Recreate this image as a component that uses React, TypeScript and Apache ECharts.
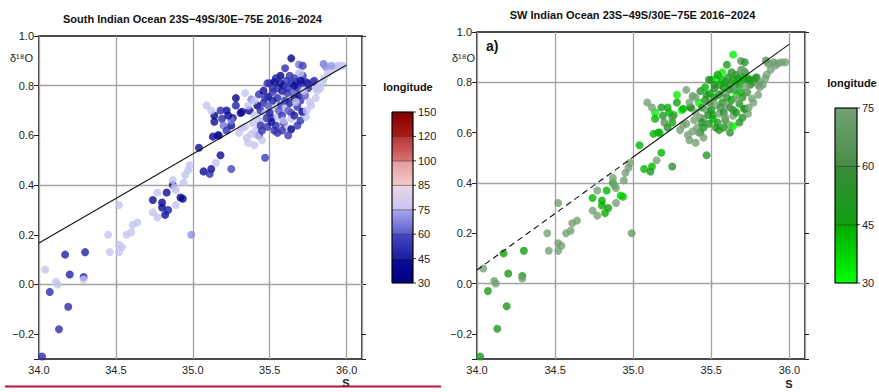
import React, { useEffect, useRef } from 'react';
import * as echarts from 'echarts';

// ---- data ----
const salinity = [
  34.02, 34.13, 34.19, 34.07, 34.04, 34.12, 34.11, 34.20, 34.17, 34.30,
  34.29, 34.29, 34.45, 34.46, 34.52, 34.54, 34.52, 34.52, 34.57, 34.60,
  34.61, 34.64, 34.77, 34.74, 34.80, 34.83, 34.74, 34.77, 34.80, 34.82,
  34.84, 34.92, 34.935, 34.89, 34.87, 34.88, 34.89, 34.94, 34.95, 34.99,
  34.87, 34.97, 34.98, 35.04, 35.18, 35.07, 35.12, 35.11, 35.15, 35.25,
  35.47, 35.09, 35.14, 35.22, 35.31, 35.37, 35.14, 35.19, 35.26, 35.20,
  35.22, 35.16, 35.13, 35.17, 35.34, 35.28, 35.38, 35.35, 35.41, 35.32,
  35.45, 35.42, 35.44, 35.46, 35.49, 35.52, 35.55, 35.50, 35.53, 35.59,
  35.64, 35.67, 35.71, 35.735, 35.77, 35.69, 35.68, 35.57, 35.615, 35.66,
  35.69, 35.57, 35.53, 35.47, 35.51, 35.55, 35.60, 35.64, 35.68, 35.71,
  35.70, 35.64, 35.59, 35.54, 35.485, 35.53, 35.51, 35.43, 35.39, 35.34,
  35.43, 35.45, 35.615, 35.735, 35.64, 35.64, 35.69, 35.57, 35.60, 35.79,
  35.81, 35.76, 35.85, 35.865, 35.93, 35.975, 35.95, 35.91, 35.855, 35.845,
  35.80, 35.81, 35.78, 35.745, 35.715, 35.715, 35.70, 35.715, 35.485, 35.66,
  35.43, 35.46, 35.365, 35.40, 35.32, 35.38, 35.42, 35.45, 35.70, 35.55,
  35.58, 35.62, 35.65, 35.60, 35.63, 35.56, 35.52, 35.67, 35.73, 35.75,
  35.50, 35.47, 35.61, 35.54, 35.66, 35.72, 35.58, 35.49, 35.28, 35.25,
  35.36, 35.40, 35.30, 35.25, 35.23, 35.18, 35.12, 35.58, 35.62, 35.68,
  35.74, 35.77, 35.80, 35.83, 35.88, 35.90, 35.70, 35.63, 35.57, 35.52,
  35.48, 35.44, 35.40, 35.36, 35.62, 35.66, 35.59, 35.55,
];
const d18o = [
  -0.29, -0.18, -0.09, -0.03, 0.06, 0.00, 0.01, 0.04, 0.12, 0.13,
  0.03, 0.02, 0.20, 0.13, 0.16, 0.15, 0.13, 0.32, 0.20, 0.21,
  0.24, 0.25, 0.37, 0.34, 0.33, 0.37, 0.29, 0.27, 0.31, 0.28,
  0.30, 0.35, 0.345, 0.32, 0.40, 0.39, 0.38, 0.41, 0.44, 0.20,
  0.42, 0.46, 0.48, 0.55, 0.52, 0.455, 0.465, 0.445, 0.49, 0.465,
  0.51, 0.72, 0.68, 0.70, 0.69, 0.70, 0.655, 0.667, 0.67, 0.64,
  0.62, 0.60, 0.595, 0.60, 0.77, 0.75, 0.745, 0.59, 0.62, 0.63,
  0.655, 0.72, 0.70, 0.73, 0.755, 0.775, 0.79, 0.81, 0.815, 0.80,
  0.81, 0.815, 0.81, 0.815, 0.80, 0.85, 0.79, 0.76, 0.77, 0.75,
  0.76, 0.72, 0.71, 0.69, 0.67, 0.675, 0.71, 0.69, 0.715, 0.695,
  0.66, 0.667, 0.65, 0.64, 0.635, 0.62, 0.655, 0.66, 0.65, 0.635,
  0.60, 0.58, 0.63, 0.675, 0.625, 0.91, 0.885, 0.84, 0.87, 0.82,
  0.78, 0.735, 0.887, 0.875, 0.876, 0.88, 0.88, 0.867, 0.83, 0.815,
  0.79, 0.80, 0.815, 0.81, 0.84, 0.88, 0.74, 0.695, 0.81, 0.83,
  0.765, 0.78, 0.70, 0.74, 0.695, 0.605, 0.60, 0.62, 0.85, 0.75,
  0.78, 0.79, 0.77, 0.74, 0.73, 0.70, 0.74, 0.735, 0.76, 0.79,
  0.69, 0.75, 0.82, 0.83, 0.80, 0.78, 0.68, 0.72, 0.72, 0.64,
  0.57, 0.56, 0.61, 0.66, 0.68, 0.70, 0.70, 0.62, 0.60, 0.64,
  0.70, 0.72, 0.75, 0.79, 0.85, 0.88, 0.82, 0.84, 0.81, 0.79,
  0.67, 0.64, 0.68, 0.72, 0.70, 0.68, 0.66, 0.61,
];
const longitude = [
  50, 50, 50, 50, 75, 75, 75, 47, 46, 46,
  47, 75, 75, 75, 75, 75, 75, 75, 75, 75,
  75, 75, 75, 42, 44, 43, 75, 75, 44, 43,
  45, 38, 39, 75, 43, 75, 75, 75, 75, 70,
  75, 75, 75, 43, 43, 43, 42, 50, 75, 58,
  55, 75, 32, 43, 32, 50, 43, 50, 43, 65,
  52, 52, 43, 42, 75, 32, 68, 75, 75, 75,
  75, 32, 50, 50, 43, 52, 52, 52, 32, 52,
  52, 52, 52, 52, 75, 75, 50, 75, 52, 32,
  43, 52, 75, 75, 52, 75, 75, 52, 52, 52,
  52, 75, 52, 50, 52, 50, 43, 75, 75, 75,
  50, 75, 75, 75, 32, 32, 65, 32, 50, 50,
  75, 75, 65, 70, 75, 75, 75, 75, 75, 75,
  75, 75, 55, 45, 52, 55, 52, 50, 52, 55,
  52, 43, 52, 75, 43, 75, 75, 52, 75, 52,
  45, 52, 60, 52, 45, 60, 45, 75, 60, 52,
  45, 52, 52, 45, 43, 75, 52, 60, 45, 43,
  75, 75, 75, 65, 43, 50, 75, 52, 55, 52,
  75, 75, 75, 75, 75, 72, 43, 52, 43, 52,
  52, 52, 75, 75, 60, 45, 75, 52,
];

// regression lines
const fitAll = [[34.0, 0.167], [36.0, 0.883]];
const fitSWDashed = [[34.0, 0.054], [35.0, 0.503]];
const fitSWSolid = [[35.0, 0.503], [36.0, 0.952]];

const yGridValues = [0.0, 0.4, 0.8];

// colour scales
const lonTicksAll = [30, 45, 60, 75, 85, 100, 120, 150];
const lonColorsAll = [
  ['#00007f', '#0b0b98'],
  ['#1c1ca4', '#4848bf'],
  ['#5b5bcd', '#a8a8ee'],
  ['#c4c4f0', '#ecd6e6'],
  ['#f2cccc', '#e49a9a'],
  ['#d87474', '#b63434'],
  ['#a81a1a', '#830000'],
];
const lonTicksSW = [30, 45, 60, 75];
const lonColorsSW = [
  ['#00ff00', '#00a800'],
  ['#0f9f0f', '#3a8a3a'],
  ['#468e46', '#74a074'],
];

const titleAll = 'South Indian Ocean 23S\u221249S/30E\u221275E 2016\u22122024';
const titleSW = 'SW Indian Ocean 23S\u221249S/30E\u221275E 2016\u22122024';

const FONT = 'Liberation Sans, Arial, Helvetica, sans-serif';

function hexToRgb(h: string) {
  const n = parseInt(h.slice(1), 16);
  return [(n >> 16) & 255, (n >> 8) & 255, n & 255];
}
function mix(a: string, b: string, t: number) {
  const A = hexToRgb(a), B = hexToRgb(b);
  const c = A.map((v, i) => Math.round(v + (B[i] - v) * t));
  return `rgb(${c[0]},${c[1]},${c[2]})`;
}
function lonColor(v: number, ticks: number[], colors: string[][]) {
  for (let i = 0; i < ticks.length - 1; i++) {
    const lo = ticks[i], hi = ticks[i + 1];
    if (v < hi || i === ticks.length - 2) {
      const t = Math.max(0, Math.min(1, (v - lo) / (hi - lo)));
      return mix(colors[i][0], colors[i][1], t);
    }
  }
  return colors[0][0];
}

function fmtNum(v: number, step: number) {
  const k = v / step;
  if (Math.abs(k - Math.round(k)) > 1e-6) return '';
  const s = Math.abs(v).toFixed(1);
  return v < -1e-9 ? '\u2212' + s : s;
}

function colorbar(x: number, y: number, w: number, h: number, ticks: number[], colors: string[][]) {
  const n = ticks.length - 1;
  const seg = h / n;
  const els: any[] = [];
  for (let i = 0; i < n; i++) {
    const y0 = y + h - (i + 1) * seg;
    els.push({
      type: 'rect',
      shape: { x, y: y0, width: w, height: seg },
      style: {
        fill: {
          type: 'linear', x: 0, y: 1, x2: 0, y2: 0,
          colorStops: [{ offset: 0, color: colors[i][0] }, { offset: 1, color: colors[i][1] }],
        },
        stroke: 'rgba(0,0,0,0.45)',
        lineWidth: 0.7,
      },
    });
  }
  els.push({ type: 'rect', shape: { x, y, width: w, height: h }, style: { fill: 'none', stroke: '#000', lineWidth: 1 } });
  ticks.forEach((t, i) => {
    const ty = y + h - i * seg;
    els.push({ type: 'line', shape: { x1: x + w, y1: ty, x2: x + w + 3, y2: ty }, style: { stroke: '#000', lineWidth: 0.8 } });
    els.push({
      type: 'text', x: x + w + 5, y: ty,
      style: { text: String(t), fontSize: 11, fontFamily: FONT, fill: '#222', align: 'left', verticalAlign: 'middle' },
    });
  });
  return els;
}

function axesFor(gi: number) {
  const xBottom = {
    gridIndex: gi, type: 'value', min: 34.0, max: 36.1, splitNumber: 4, minInterval: 0.5, maxInterval: 0.5,
    axisLine: { show: false },
    axisTick: { show: true, length: 4, lineStyle: { color: '#9a9a9a', width: 1.3 } },
    axisLabel: { formatter: (v: number) => fmtNum(v, 0.5), fontSize: 11, color: '#222', fontFamily: FONT, margin: 5 },
    splitLine: { show: true, lineStyle: { color: '#a4a4a4', width: 1.3 } },
  };
  const xTop = {
    gridIndex: gi, type: 'value', position: 'top', min: 34.0, max: 36.1, splitNumber: 4, minInterval: 0.5, maxInterval: 0.5,
    axisLine: { show: false },
    axisTick: { show: true, length: 3, lineStyle: { color: '#9a9a9a', width: 1.3 } },
    axisLabel: { show: false }, splitLine: { show: false },
  };
  const yLeft = {
    gridIndex: gi, type: 'value', min: -0.3, max: 1.0, splitNumber: 6, minInterval: 0.2, maxInterval: 0.2,
    axisLine: { show: false },
    axisTick: { show: true, length: 5, lineStyle: { color: '#222', width: 1 } },
    axisLabel: { formatter: (v: number) => fmtNum(v, 0.2), fontSize: 11, color: '#222', fontFamily: FONT, margin: 5 },
    splitLine: { show: false },
  };
  const yRight = {
    gridIndex: gi, type: 'value', position: 'right', min: -0.3, max: 1.0, splitNumber: 6, minInterval: 0.2, maxInterval: 0.2,
    axisLine: { show: false },
    axisTick: { show: true, length: 4, lineStyle: { color: '#222', width: 1 } },
    axisLabel: { show: false }, splitLine: { show: false },
  };
  return { x: [xBottom, xTop], y: [yLeft, yRight] };
}

function scatterData(ticks: number[], colors: string[][]) {
  return salinity.map((s, i) => ({ value: [s, d18o[i]], itemStyle: { color: lonColor(longitude[i], ticks, colors) } }));
}

function gridMarkLine() {
  return {
    silent: true, symbol: 'none', z: 1,
    label: { show: false },
    lineStyle: { color: '#a4a4a4', width: 1.3, type: 'solid' },
    data: yGridValues.map((v) => ({ yAxis: v })),
  };
}

export default function App() {
  const ref = useRef<HTMLDivElement>(null);
  useEffect(() => {
    document.body.style.margin = '0';
    const chart = echarts.init(ref.current!, null, { renderer: 'svg' });
    const a0 = axesFor(0);
    const a1 = axesFor(1);
    const option: any = {
      animation: false,
      backgroundColor: '#fff',
      textStyle: { fontFamily: FONT },
      grid: [
        { left: 39, top: 36, width: 323, height: 323, show: true, borderColor: '#111', borderWidth: 1.6, backgroundColor: 'transparent' },
        { left: 477, top: 32, width: 328, height: 327, show: true, borderColor: '#111', borderWidth: 1.6, backgroundColor: 'transparent' },
      ],
      xAxis: [...a0.x, ...a1.x],
      yAxis: [...a0.y, ...a1.y],
      series: [
        {
          type: 'line', xAxisIndex: 0, yAxisIndex: 0, data: [], z: 1,
          markLine: gridMarkLine(),
        },
        {
          type: 'scatter', xAxisIndex: 0, yAxisIndex: 0, symbolSize: 8, z: 3,
          data: scatterData(lonTicksAll, lonColorsAll),
        },
        {
          type: 'line', xAxisIndex: 0, yAxisIndex: 0, data: fitAll, showSymbol: false, z: 4,
          lineStyle: { color: '#111', width: 1.1 },
        },
        {
          type: 'line', xAxisIndex: 2, yAxisIndex: 2, data: [], z: 1,
          markLine: gridMarkLine(),
        },
        {
          type: 'scatter', xAxisIndex: 2, yAxisIndex: 2, symbolSize: 8, z: 3,
          data: scatterData(lonTicksSW, lonColorsSW),
        },
        {
          type: 'line', xAxisIndex: 2, yAxisIndex: 2, data: fitSWDashed, showSymbol: false, z: 4,
          lineStyle: { color: '#111', width: 1.1, type: [6, 4] },
        },
        {
          type: 'line', xAxisIndex: 2, yAxisIndex: 2, data: fitSWSolid, showSymbol: false, z: 4,
          lineStyle: { color: '#111', width: 1.1 },
        },
      ],
      graphic: [
        { type: 'text', x: 192.5, y: 19, style: { text: titleAll, fontSize: 11, fontWeight: 'bold', fontFamily: FONT, fill: '#111', align: 'center', verticalAlign: 'middle' } },
        { type: 'text', x: 632.5, y: 15, style: { text: titleSW, fontSize: 11, fontWeight: 'bold', fontFamily: FONT, fill: '#111', align: 'center', verticalAlign: 'middle' } },
        { type: 'text', x: 10, y: 58, style: { text: '\u03b4\u00b9\u2078O', fontSize: 11, fontFamily: FONT, fill: '#222', align: 'left', verticalAlign: 'middle' } },
        { type: 'text', x: 452, y: 58, style: { text: '\u03b4\u00b9\u2078O', fontSize: 11, fontFamily: FONT, fill: '#222', align: 'left', verticalAlign: 'middle' } },
        { type: 'text', x: 346, y: 383, style: { text: 'S', fontSize: 11, fontWeight: 'bold', fontFamily: FONT, fill: '#222', align: 'center', verticalAlign: 'middle' } },
        { type: 'text', x: 789, y: 384, style: { text: 'S', fontSize: 11, fontWeight: 'bold', fontFamily: FONT, fill: '#222', align: 'center', verticalAlign: 'middle' } },
        { type: 'text', x: 486, y: 46, style: { text: 'a)', fontSize: 14, fontWeight: 'bold', fontFamily: FONT, fill: '#111', align: 'left', verticalAlign: 'middle' } },
        { type: 'text', x: 408, y: 87, style: { text: 'longitude', fontSize: 11, fontWeight: 'bold', fontFamily: FONT, fill: '#111', align: 'center', verticalAlign: 'middle' } },
        { type: 'text', x: 852, y: 83, style: { text: 'longitude', fontSize: 11, fontWeight: 'bold', fontFamily: FONT, fill: '#111', align: 'center', verticalAlign: 'middle' } },
        ...colorbar(392, 112, 21, 171, lonTicksAll, lonColorsAll),
        ...colorbar(835, 108, 22, 175, lonTicksSW, lonColorsSW),
        { type: 'line', z: 10, shape: { x1: 5, y1: 386.5, x2: 441, y2: 386.5 }, style: { stroke: '#b5123a', lineWidth: 2 } },
      ],
    };
    chart.setOption(option);
    return () => chart.dispose();
  }, []);
  return <div ref={ref} style={{ width: 879, height: 392 }} />;
}
